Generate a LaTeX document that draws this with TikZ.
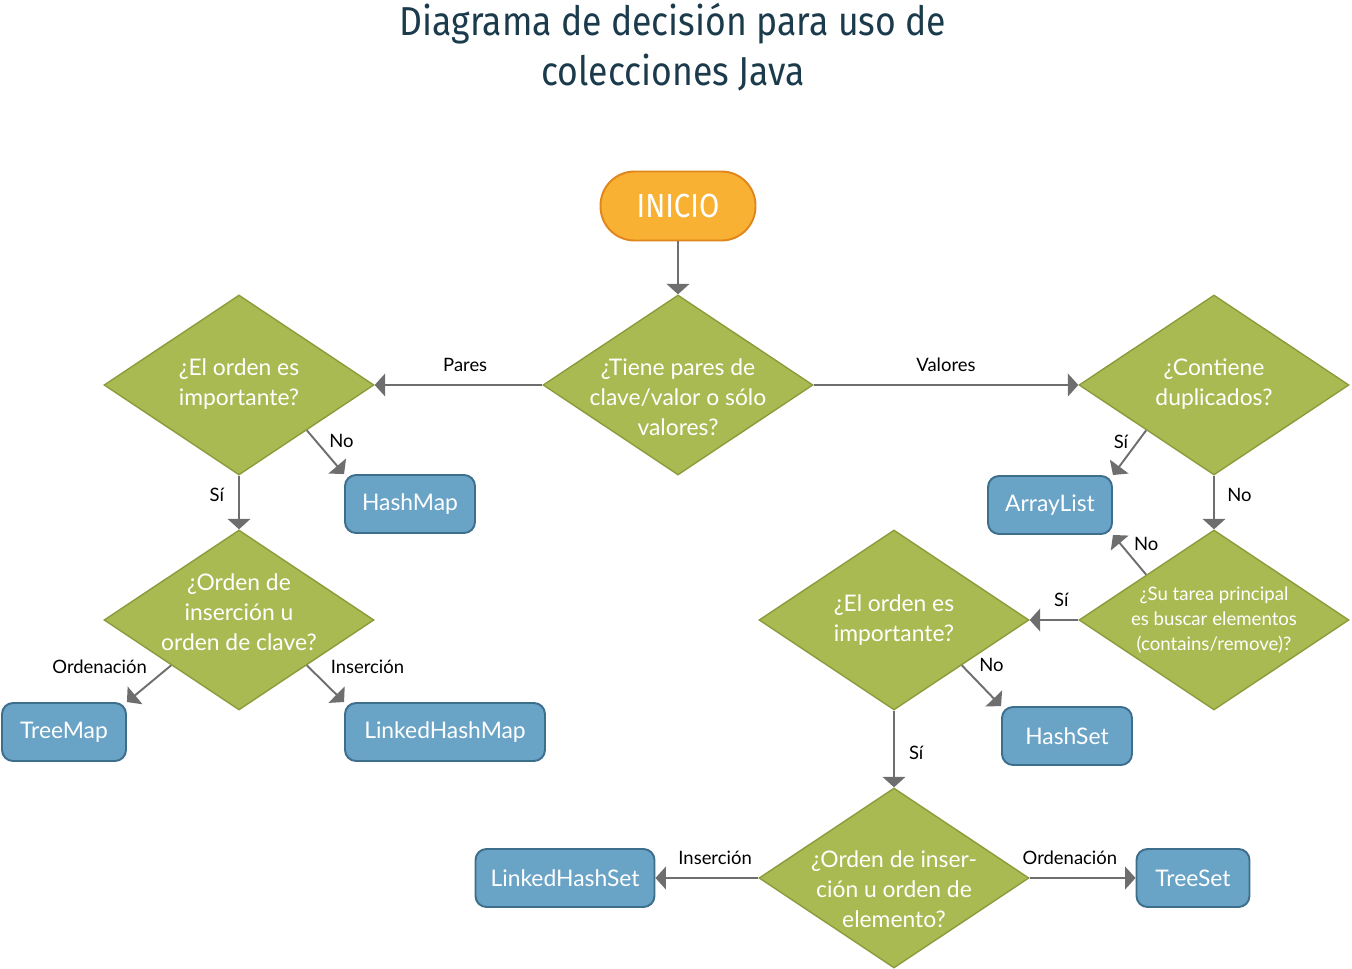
\documentclass[tikz,border=0pt]{standalone}
\usepackage{fontspec}
\setmainfont{Lato}
\newfontfamily\titlefont[FakeStretch=0.88]{Fira Sans}
\usepackage{xcolor}
\usetikzlibrary{arrows.meta,shapes.geometric,positioning}
\definecolor{decgreen}{HTML}{A9BA52}
\definecolor{decedge}{HTML}{8C9C3C}
\definecolor{resblue}{HTML}{69A3C6}
\definecolor{resedge}{HTML}{3D6E8C}
\definecolor{startfill}{HTML}{F8B133}
\definecolor{startedge}{HTML}{E0861C}
\definecolor{flowgray}{HTML}{6E6E6E}
\definecolor{titleblue}{HTML}{1B3B4C}
\tikzset{
  decision/.style={diamond,draw=decedge,fill=decgreen,line width=0.8pt,minimum width=5.4cm,minimum height=3.6cm,inner sep=0pt},
  dtext/.style={text=white,align=center,font=\fontsize{13}{17}\selectfont},
  result/.style={draw=resedge,fill=resblue,line width=1.1pt,rounded corners=0.22cm,minimum height=1.16cm,text=white,font=\fontsize{13}{15}\selectfont},
  startnode/.style={draw=startedge,fill=startfill,line width=1.1pt,rounded corners=0.68cm,minimum width=3.1cm,minimum height=1.38cm,text=white,font=\titlefont\fontsize{19}{22}\selectfont},
  flow/.style={draw=flowgray,line width=1.1pt,-{Triangle[width=13pt,length=6pt]}},
  edgelabel/.style={font=\fontsize{10.5}{12}\selectfont,text=black,inner sep=2pt}
}
\begin{document}
\begin{tikzpicture}[x=0.02cm,y=-0.02cm]
  \useasboundingbox (0,0) rectangle (1352,969);

  \node[text=titleblue,align=center,font=\titlefont\fontsize{23}{28.5}\selectfont] (title) at (673,47)
    {Diagrama de decisión para uso de\\colecciones Java};

  \node[startnode] (inicio) at (678,206) {INICIO};

  \node[decision,label={[dtext,yshift=-0.24cm]center:{¿Tiene pares de\\clave/valor o sólo\\valores?}}] (d1) at (678,385) {};
  \node[decision,label={[dtext,yshift=0.02cm]center:{¿El orden es\\importante?}}] (d2) at (239,385) {};
  \node[decision,label={[dtext,yshift=0.02cm]center:{¿Contiene\\duplicados?}}] (d3) at (1214,385) {};
  \node[decision,label={[dtext,yshift=0.16cm]center:{¿Orden de\\inserción u\\orden de clave?}}] (d4) at (239,620) {};
  \node[decision,label={[dtext,font=\fontsize{10.6}{14.4}\selectfont]center:{¿Su tarea principal\\es buscar elementos\\(contains/remove)?}}] (d5) at (1214,620) {};
  \node[decision,label={[dtext]center:{¿El orden es\\importante?}}] (d6) at (894,620) {};
  \node[decision,label={[dtext,yshift=-0.22cm]center:{¿Orden de inser-\\ción u orden de\\elemento?}}] (d7) at (894,878) {};

  \node[result,minimum width=2.6cm] (hashmap) at (410,504) {HashMap};
  \node[result,minimum width=2.48cm] (arraylist) at (1050,505) {ArrayList};
  \node[result,minimum width=2.48cm] (treemap) at (64,732) {TreeMap};
  \node[result,minimum width=4cm] (linkedhashmap) at (445,732) {LinkedHashMap};
  \node[result,minimum width=2.6cm] (hashset) at (1067,736) {HashSet};
  \node[result,minimum width=3.58cm] (linkedhashset) at (565,878) {LinkedHashSet};
  \node[result,minimum width=2.26cm] (treeset) at (1193,878) {TreeSet};

  \draw[flow] (inicio.south) -- (d1.north);
  \draw[flow] (d1.west) -- node[edgelabel,pos=0.46,above=5pt] {Pares} (d2.east);
  \draw[flow] (d1.east) -- node[edgelabel,above=5pt] {Valores} (d3.west);
  \draw[flow] (d2.south east) -- node[edgelabel,pos=0.25,right=5pt] {No} (hashmap.north west);
  \draw[flow] (d2.south) -- node[edgelabel,pos=0.35,left=6pt] {Sí} (d4.north);
  \draw[flow] (d3.south west) -- node[edgelabel,pos=0.25,left=3pt] {Sí} (arraylist.north east);
  \draw[flow] (d3.south) -- node[edgelabel,pos=0.35,right=5pt] {No} (d5.north);
  \draw[flow] (d5.north west) -- node[edgelabel,pos=0.5,above right=0pt] {No} (arraylist.south east);
  \draw[flow] (d5.west) -- node[edgelabel,pos=0.35,above=5pt] {Sí} (d6.east);
  \draw[flow] (d6.south east) -- node[edgelabel,pos=0.3,above right=1pt] {No} (hashset.north west);
  \draw[flow] (d6.south) -- node[edgelabel,pos=0.55,right=6pt] {Sí} (d7.north);
  \draw[flow] (d7.west) -- node[edgelabel,pos=0.42,above=5pt] {Inserción} (linkedhashset.east);
  \draw[flow] (d7.east) -- node[edgelabel,pos=0.38,above=5pt] {Ordenación} (treeset.west);
  \draw[flow] (d4.south west) -- node[edgelabel,pos=0.05,left=10pt] {Ordenación} (treemap.north east);
  \draw[flow] (d4.south east) -- node[edgelabel,pos=0.05,right=10pt] {Inserción} (linkedhashmap.north west);
\end{tikzpicture}
\end{document}
